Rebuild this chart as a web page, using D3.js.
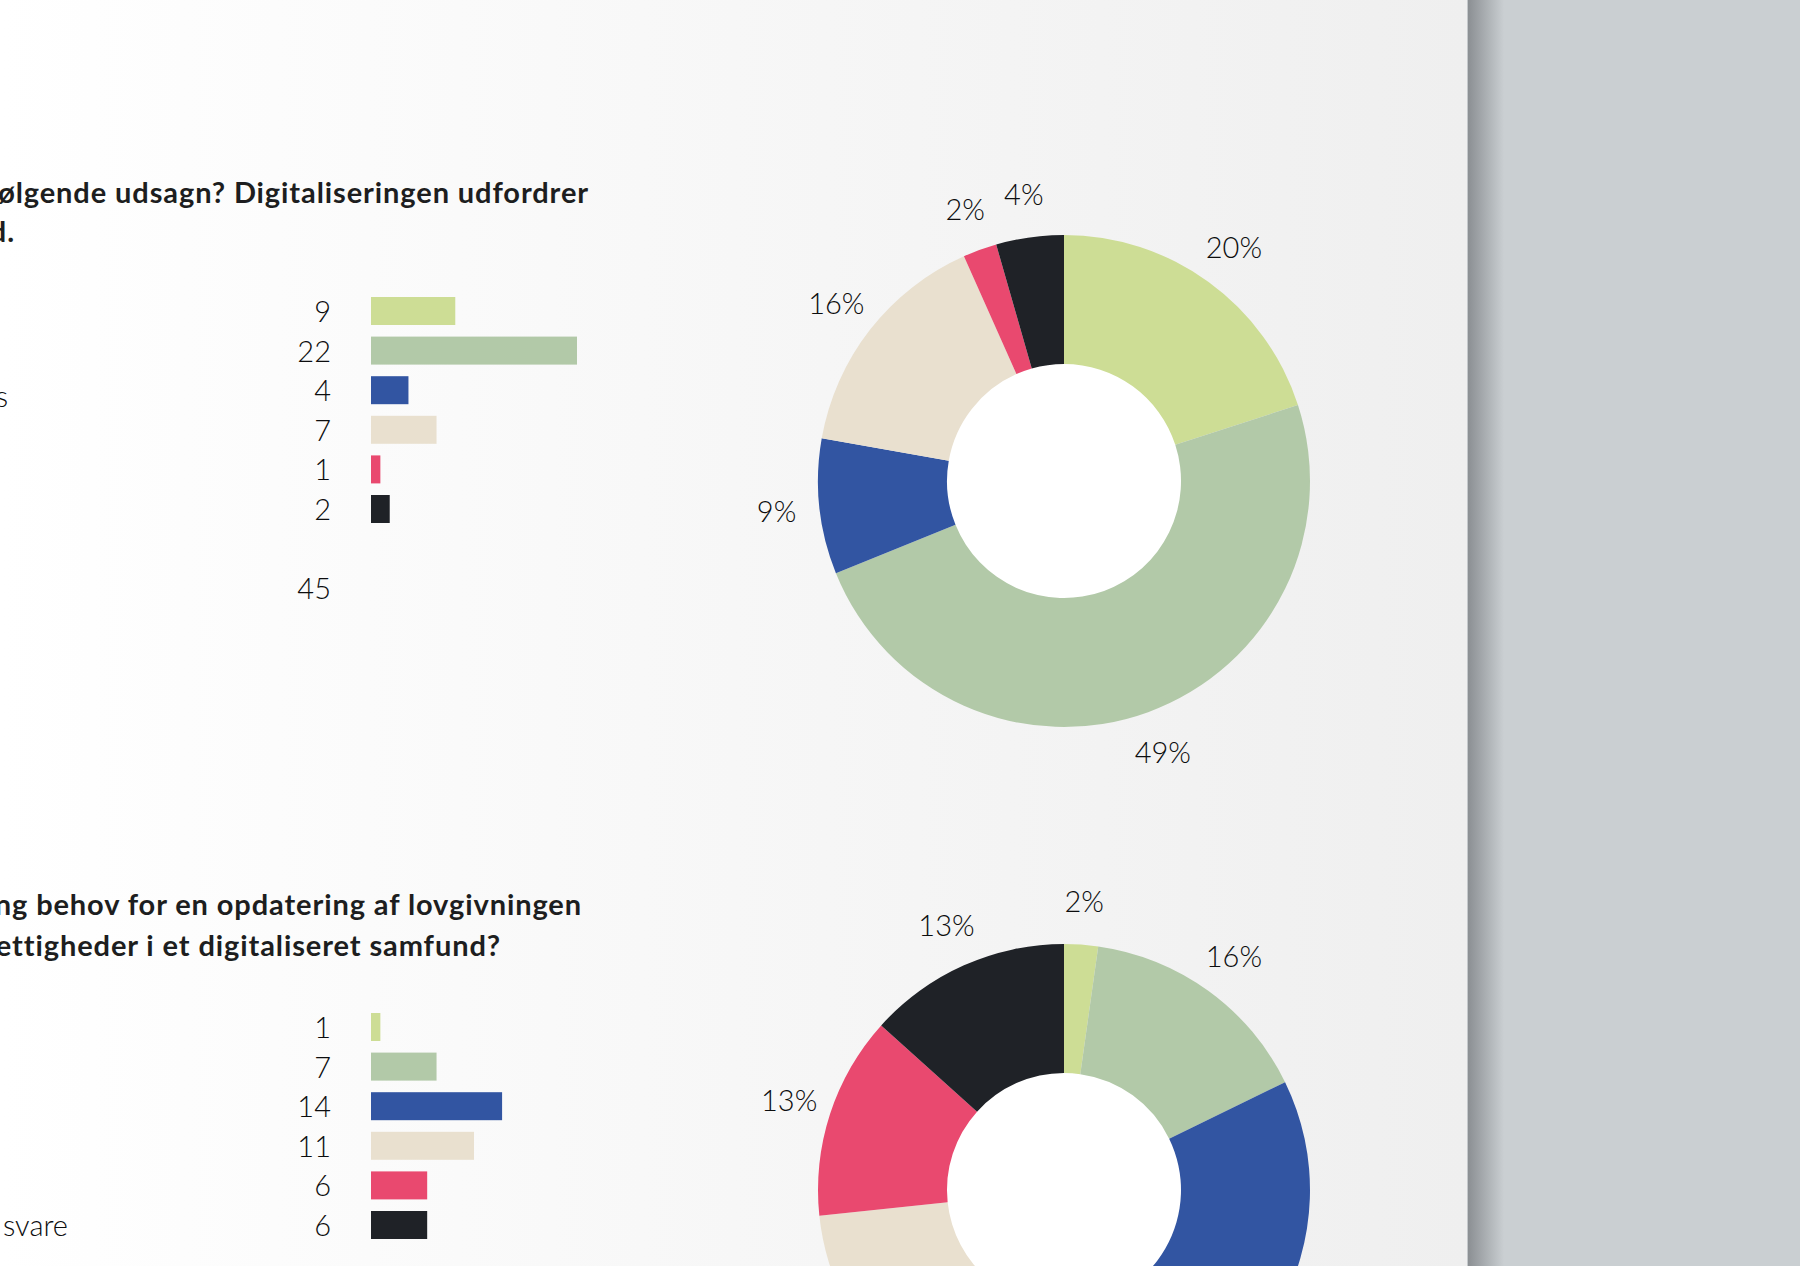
<!DOCTYPE html>
<html>
<head>
  <meta charset="utf-8">
  <title>Survey donuts</title>
  <script src="https://d3js.org/d3.v7.min.js"></script>
  <style>
    html, body { margin: 0; padding: 0; background: #cacfd2; }
    svg { display: block; }
    .title { font: 700 29px "Lato", sans-serif; letter-spacing: 0.9px; fill: #1d1e20; }
    .num { font: 300 29px "Lato", sans-serif; fill: #0c0d0e; }
    .lbl { font: 300 29px "Lato", sans-serif; fill: #0c0d0e; }
  </style>
</head>
<body>
<script>
  // Colours shared by both questions, in answer order.
  const colors = ["#cddd95", "#b2c9a8", "#3255a2", "#e9e0cf", "#e9496f", "#1f2227"];

  // Question 1
  const values1 = [9, 22, 4, 7, 1, 2];
  const labels1 = ["", "", "Delvis", "", "", ""];
  const title1 = [
    "I hvilken grad er du enig i følgende udsagn? Digitaliseringen udfordrer",
    "menneskerettighederne i et digitaliseret samfund."
  ];

  // Question 2
  const values2 = [1, 7, 14, 11, 6, 6];
  const labels2 = ["", "", "", "", "", "Ved ikke / ønsker ikke at svare"];
  const title2 = [
    "Er der efter din mening behov for en opdatering af lovgivningen",
    "for at beskytte menneskerettigheder i et digitaliseret samfund?"
  ];

  const width = 1800;
  const height = 1266;
  const pageRight = 1468;

  const svg = d3.select("body").append("svg")
      .attr("width", width)
      .attr("height", height);

  const defs = svg.append("defs");
  const pageGrad = defs.append("linearGradient").attr("id", "page");
  pageGrad.append("stop").attr("offset", "0%").attr("stop-color", "#ffffff");
  pageGrad.append("stop").attr("offset", "100%").attr("stop-color", "#efefef");
  const shadeGrad = defs.append("linearGradient").attr("id", "shade");
  shadeGrad.append("stop").attr("offset", "0%").attr("stop-color", "#8b8f93");
  shadeGrad.append("stop").attr("offset", "100%").attr("stop-color", "#cacfd2");

  // page + desk background
  svg.append("rect").attr("width", width).attr("height", height).attr("fill", "#cacfd2");
  svg.append("rect").attr("width", pageRight).attr("height", height).attr("fill", "url(#page)");
  svg.append("rect").attr("x", pageRight).attr("width", 36).attr("height", height).attr("fill", "url(#shade)");
  svg.append("rect").attr("x", pageRight - 1).attr("width", 1).attr("height", height).attr("fill", "#c4c8cb");

  // bar length scale, same for both questions
  const x = d3.scaleLinear().domain([0, 22]).range([0, 206]);
  const barX = 371;
  const barH = 28;
  const numX = 331;

  function drawQuestion(opts) {
    const g = svg.append("g");
    const total = d3.sum(opts.values);

    // title, right edges as on the page
    g.selectAll(".title")
      .data(opts.title)
      .enter().append("text")
        .attr("class", "title")
        .attr("x", (d, i) => opts.titleEnds[i])
        .attr("y", (d, i) => opts.titleY[i])
        .attr("text-anchor", "end")
        .text(d => d);

    // row positions (index 7 is the total row)
    const y = d3.scalePoint().domain(d3.range(8)).range([opts.rowTop, opts.rowTop + 7 * 39.6]);

    g.selectAll(".bar")
      .data(opts.values)
      .enter().append("rect")
        .attr("class", "bar")
        .attr("x", barX)
        .attr("y", (d, i) => y(i) - barH / 2)
        .attr("width", d => x(d))
        .attr("height", barH)
        .attr("fill", (d, i) => colors[i]);

    g.selectAll(".num")
      .data(opts.values.concat([total]))
      .enter().append("text")
        .attr("class", "num")
        .attr("x", numX)
        .attr("y", (d, i) => (i < opts.values.length ? y(i) : y(7)) + 11)
        .attr("text-anchor", "end")
        .text(d => d);

    g.selectAll(".lbl")
      .data(opts.labels)
      .enter().append("text")
        .attr("class", "lbl")
        .attr("x", opts.labelEnd)
        .attr("y", (d, i) => y(i) + opts.labelDy)
        .attr("text-anchor", "end")
        .text(d => d);

    // donut
    const pie = d3.pie().sort(null).value(d => d);
    const arcs = pie(opts.values);
    const arc = d3.arc().innerRadius(117).outerRadius(246);
    const labelArc = d3.arc().innerRadius(289).outerRadius(289);

    const dg = g.append("g").attr("transform", `translate(${opts.cx},${opts.cy})`);
    dg.append("circle").attr("r", 118).attr("fill", "#ffffff");
    dg.selectAll(".slice")
      .data(arcs)
      .enter().append("path")
        .attr("class", "slice")
        .attr("d", arc)
        .attr("fill", (d, i) => colors[i]);

    dg.selectAll(".pct")
      .data(arcs)
      .enter().append("text")
        .attr("class", "num pct")
        .attr("transform", d => `translate(${labelArc.centroid(d)})`)
        .attr("dy", "0.36em")
        .attr("text-anchor", "middle")
        .text(d => Math.round(d.value / total * 100) + "%");
  }

  drawQuestion({
    values: values1, labels: labels1, title: title1,
    titleEnds: [589, 15], titleY: [203, 242],
    rowTop: 311, labelEnd: 8, labelDy: 17,
    cx: 1064, cy: 481
  });

  drawQuestion({
    values: values2, labels: labels2, title: title2,
    titleEnds: [582, 501], titleY: [915, 956],
    rowTop: 1027, labelEnd: 68, labelDy: 11,
    cx: 1064, cy: 1190
  });
</script>
</body>
</html>
